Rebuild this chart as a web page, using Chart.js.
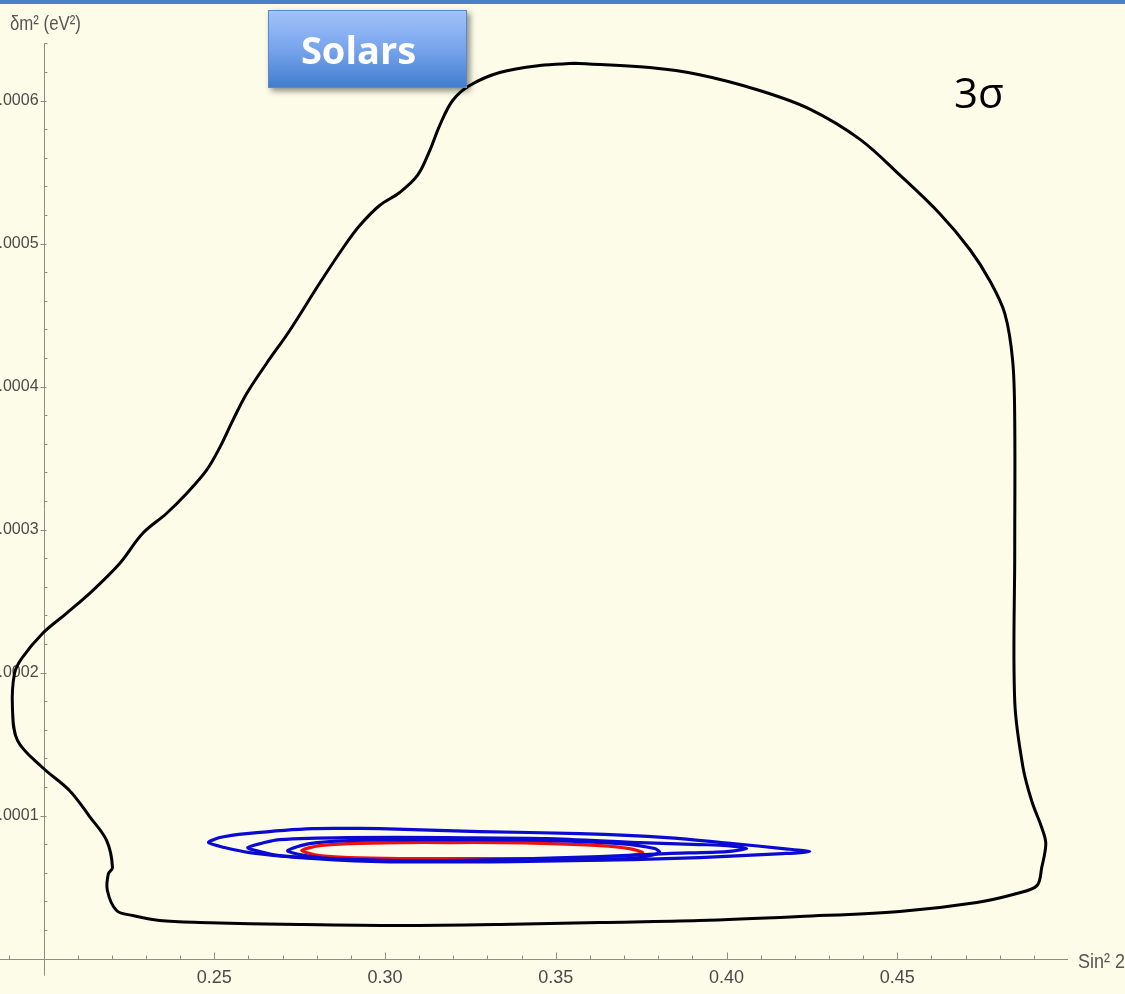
<!DOCTYPE html>
<html>
<head>
<meta charset="utf-8">
<script src="https://cdn.jsdelivr.net/npm/chart.js@4.4.1/dist/chart.umd.min.js"></script>
<style>
  html, body { margin: 0; padding: 0; background: #fcfce8; overflow: hidden; }
  canvas { display: block; }
</style>
</head>
<body>
<canvas id="chart" width="1125" height="994"></canvas>
<script>
// 3 sigma allowed region (black contour), sin^2(2theta) vs delta m^2 in eV^2
const sigma3X = [0.3555,0.3775,0.3921,0.4097,0.4244,0.4390,0.4507,0.4624,0.4712,0.4771,0.4815,0.4838,0.4844,0.4844,0.4844,0.4868,0.4894,0.4923,0.4935,0.4923,0.4909,0.4850,0.4733,0.4507,0.4214,0.3921,0.3629,0.3336,0.3043,0.2750,0.2457,0.2340,0.2261,0.2214,0.2187,0.2190,0.2202,0.2185,0.2135,0.2076,0.1997,0.1924,0.1909,0.1915,0.1936,0.1997,0.2067,0.2144,0.2223,0.2290,0.2360,0.2419,0.2477,0.2516,0.2554,0.2595,0.2653,0.2721,0.2808,0.2882,0.2926,0.2984,0.3043,0.3095,0.3131,0.3160,0.3198,0.3248,0.3336,0.3453,0.3555];
const sigma3Y = [0.000626,0.000623,0.000618,0.000607,0.000594,0.000573,0.000548,0.000521,0.000496,0.000474,0.000451,0.000418,0.000376,0.000285,0.000180,0.000134,0.000110,0.0000916,0.0000804,0.0000636,0.0000510,0.0000455,0.0000392,0.0000329,0.0000294,0.0000266,0.0000252,0.0000238,0.0000231,0.0000238,0.0000252,0.0000266,0.0000301,0.0000336,0.0000476,0.0000594,0.0000636,0.0000825,0.0000993,0.0001175,0.0001336,0.0001524,0.0001755,0.0001993,0.0002098,0.0002273,0.0002413,0.0002573,0.0002762,0.0002972,0.0003112,0.0003252,0.0003413,0.0003573,0.0003762,0.0003951,0.0004161,0.0004392,0.0004720,0.0004986,0.0005126,0.0005266,0.0005357,0.0005476,0.0005650,0.0005825,0.0006000,0.0006105,0.0006196,0.0006245,0.000626];

// Blue contours: outer, middle, inner
const blueOuterX = [0.2984,0.3277,0.3570,0.3825,0.4018,0.4165,0.4244,0.4165,0.3921,0.3725,0.3374,0.2984,0.2750,0.2603,0.2530,0.2483,0.2516,0.2595,0.2788,0.2984];
const blueOuterY = [0.0000909,0.0000888,0.0000874,0.0000846,0.0000804,0.0000769,0.0000748,0.0000734,0.0000706,0.0000692,0.0000678,0.0000678,0.0000706,0.0000741,0.0000776,0.0000811,0.0000846,0.0000874,0.0000909,0.0000909];
const blueMiddleX = [0.3180,0.3473,0.3746,0.3921,0.4001,0.4059,0.4001,0.3825,0.3629,0.3336,0.3043,0.2838,0.2691,0.2633,0.2598,0.2647,0.2691,0.2888,0.3180];
const blueMiddleY = [0.0000846,0.0000839,0.0000811,0.0000797,0.0000790,0.0000769,0.0000748,0.0000734,0.0000713,0.0000692,0.0000685,0.0000699,0.0000720,0.0000748,0.0000776,0.0000811,0.0000832,0.0000846,0.0000846];
const blueInnerX = [0.3189,0.3482,0.3687,0.3790,0.3804,0.3746,0.3629,0.3336,0.3043,0.2838,0.2750,0.2715,0.2779,0.2896,0.3189];
const blueInnerY = [0.0000832,0.0000825,0.0000804,0.0000769,0.0000741,0.0000706,0.0000692,0.0000685,0.0000685,0.0000699,0.0000727,0.0000755,0.0000804,0.0000825,0.0000832];

// Red contour
const redX = [0.3189,0.3336,0.3482,0.3629,0.3716,0.3755,0.3716,0.3629,0.3482,0.3336,0.3189,0.3043,0.2896,0.2808,0.2756,0.2808,0.2896,0.3043,0.3189];
const redY = [0.0000811,0.0000811,0.0000804,0.0000790,0.0000769,0.0000741,0.0000720,0.0000706,0.0000699,0.0000699,0.0000699,0.0000699,0.0000706,0.0000720,0.0000755,0.0000790,0.0000804,0.0000811,0.0000811];

// Tick labels
const xTickValues = [0.25, 0.30, 0.35, 0.40, 0.45];
const yTickValues = [0.0001, 0.0002, 0.0003, 0.0004, 0.0005, 0.0006];

// Visible window and axis origin
const X_MIN = 0.18726, X_MAX = 0.51669;
const Y_MIN = -0.0000248, Y_MAX = 0.00067028;
const ORIGIN_X = 0.20, ORIGIN_Y = 0;
const Y_LABEL_ANCHOR_X = 0.19855;   // y tick labels end just left of the axis tick
const X_AXIS_END = 0.50, Y_AXIS_END = 0.00064, Y_AXIS_START = -0.000012;

const LABEL_FONT = "'Liberation Sans', Arial, sans-serif";

function toPoints(xs, ys) {
  return xs.map((x, i) => ({ x: x, y: ys[i] }));
}

function contour(label, xs, ys, color, width, tension) {
  return {
    label: label,
    data: toPoints(xs, ys),
    showLine: true,
    borderColor: color,
    borderWidth: width,
    pointRadius: 0,
    pointHoverRadius: 0,
    fill: false,
    tension: tension,
    borderCapStyle: 'round',
    borderJoinStyle: 'round'
  };
}

// the axes sit inside the plot, so no edge padding is reserved for their labels
function noEdgePadding(scale) {
  scale.paddingTop = 0;
  scale.paddingBottom = 0;
  scale.paddingLeft = 0;
  scale.paddingRight = 0;
}

// condensed axis-title text
function narrowText(ctx, text, x, y, squeeze) {
  ctx.save();
  ctx.translate(x, y);
  ctx.scale(squeeze, 1);
  ctx.fillText(text, 0, 0);
  ctx.restore();
}

const backdrop = {
  id: 'backdrop',
  beforeDraw(chart) {
    const ctx = chart.ctx;
    ctx.save();
    ctx.fillStyle = '#fcfce8';
    ctx.fillRect(0, 0, chart.width, chart.height);
    ctx.fillStyle = '#4a80c8';
    ctx.fillRect(0, 0, chart.width, 4);
    ctx.restore();
  },
  beforeDatasetsDraw(chart) {
    const ctx = chart.ctx;
    const xs = chart.scales.x, ys = chart.scales.y;
    const ox = Math.round(xs.getPixelForValue(ORIGIN_X)) + 0.5;
    const oy = Math.round(ys.getPixelForValue(ORIGIN_Y)) + 0.5;
    ctx.save();
    ctx.strokeStyle = '#8e8e84';
    ctx.lineWidth = 1;
    ctx.beginPath();
    ctx.moveTo(0, oy);
    ctx.lineTo(xs.getPixelForValue(X_AXIS_END), oy);
    ctx.moveTo(ox, ys.getPixelForValue(Y_AXIS_START));
    ctx.lineTo(ox, ys.getPixelForValue(Y_AXIS_END));
    // x-axis tick marks, every 0.01, pointing into the plot
    for (let k = 19; k <= 49; k++) {
      if (k === 20) continue;
      const px = Math.round(xs.getPixelForValue(k / 100)) + 0.5;
      const len = (k % 5 === 0) ? 7 : 4;
      ctx.moveTo(px, oy);
      ctx.lineTo(px, oy - len);
    }
    // y-axis tick marks, every 0.00002
    for (let k = 1; k <= 32; k++) {
      const py = Math.round(ys.getPixelForValue(k * 0.00002)) + 0.5;
      if (k % 5 === 0) {
        ctx.moveTo(ox - 4, py);
        ctx.lineTo(ox + 2, py);
      } else {
        ctx.moveTo(ox, py);
        ctx.lineTo(ox + 3, py);
      }
    }
    ctx.stroke();
    ctx.restore();
  },
  afterDraw(chart) {
    const ctx = chart.ctx;
    const xs = chart.scales.x, ys = chart.scales.y;
    ctx.save();
    // axis titles
    ctx.fillStyle = '#555';
    ctx.textBaseline = 'alphabetic';
    ctx.textAlign = 'left';
    ctx.font = '20px ' + LABEL_FONT;
    narrowText(ctx, 'δm² (eV²)', 10, 30, 0.84);
    narrowText(ctx, 'Sin² 2θ', xs.getPixelForValue(X_AXIS_END) + 10, ys.getPixelForValue(ORIGIN_Y) + 9, 0.9);

    // "Solars" badge
    const bx = 268, by = 10, bw = 199, bh = 78;
    ctx.save();
    ctx.shadowColor = 'rgba(0,0,0,0.45)';
    ctx.shadowBlur = 6;
    ctx.shadowOffsetX = 3;
    ctx.shadowOffsetY = 3;
    const g = ctx.createLinearGradient(0, by, 0, by + bh);
    g.addColorStop(0, '#a2c3fb');
    g.addColorStop(0.5, '#78a4ec');
    g.addColorStop(1, '#3f7dcd');
    ctx.fillStyle = g;
    ctx.fillRect(bx, by, bw, bh);
    ctx.restore();
    ctx.strokeStyle = '#5a89cf';
    ctx.lineWidth = 1;
    ctx.strokeRect(bx + 0.5, by + 0.5, bw - 1, bh - 1);
    ctx.fillStyle = '#ffffff';
    ctx.font = "bold 38px 'Open Sans', sans-serif";
    ctx.textAlign = 'center';
    ctx.fillText('Solars', bx + bw / 2 - 9, 64);

    // confidence level label
    ctx.fillStyle = '#000';
    ctx.textAlign = 'left';
    ctx.font = "42px 'Open Sans', sans-serif";
    ctx.fillText('3σ', 954, 108);
    ctx.restore();
  }
};

new Chart(document.getElementById('chart'), {
  type: 'scatter',
  data: {
    datasets: [
      contour('3σ', sigma3X, sigma3Y, '#000000', 3, 0.35),
      contour('outer', blueOuterX, blueOuterY, '#0a0ad2', 3.2, 0.25),
      contour('middle', blueMiddleX, blueMiddleY, '#0a0ad2', 3.2, 0.25),
      contour('inner', blueInnerX, blueInnerY, '#0a0ad2', 3.2, 0.25),
      contour('best', redX, redY, '#f01010', 3.2, 0.25)
    ]
  },
  options: {
    responsive: false,
    animation: false,
    devicePixelRatio: 1,
    layout: { padding: 0 },
    plugins: { legend: { display: false }, tooltip: { enabled: false }, title: { display: false } },
    scales: {
      x: {
        type: 'linear',
        min: X_MIN,
        max: X_MAX,
        position: { y: ORIGIN_Y },
        grid: { display: false, drawTicks: false },
        border: { display: false },
        afterBuildTicks: s => { s.ticks = xTickValues.map(v => ({ value: v })); },
        afterFit: noEdgePadding,
        ticks: {
          autoSkip: false,
          maxRotation: 0,
          padding: 9,
          color: '#4a4a4a',
          font: { family: LABEL_FONT, size: 18 },
          callback: v => v.toFixed(2)
        }
      },
      y: {
        type: 'linear',
        min: Y_MIN,
        max: Y_MAX,
        position: { x: Y_LABEL_ANCHOR_X },
        grid: { display: false, drawTicks: false },
        border: { display: false },
        afterBuildTicks: s => { s.ticks = yTickValues.map(v => ({ value: v })); },
        afterFit: noEdgePadding,
        ticks: {
          autoSkip: false,
          padding: 0,
          color: '#4a4a4a',
          font: { family: LABEL_FONT, size: 16 },
          callback: v => v.toFixed(4)
        }
      }
    }
  },
  plugins: [backdrop]
});
</script>
</body>
</html>
